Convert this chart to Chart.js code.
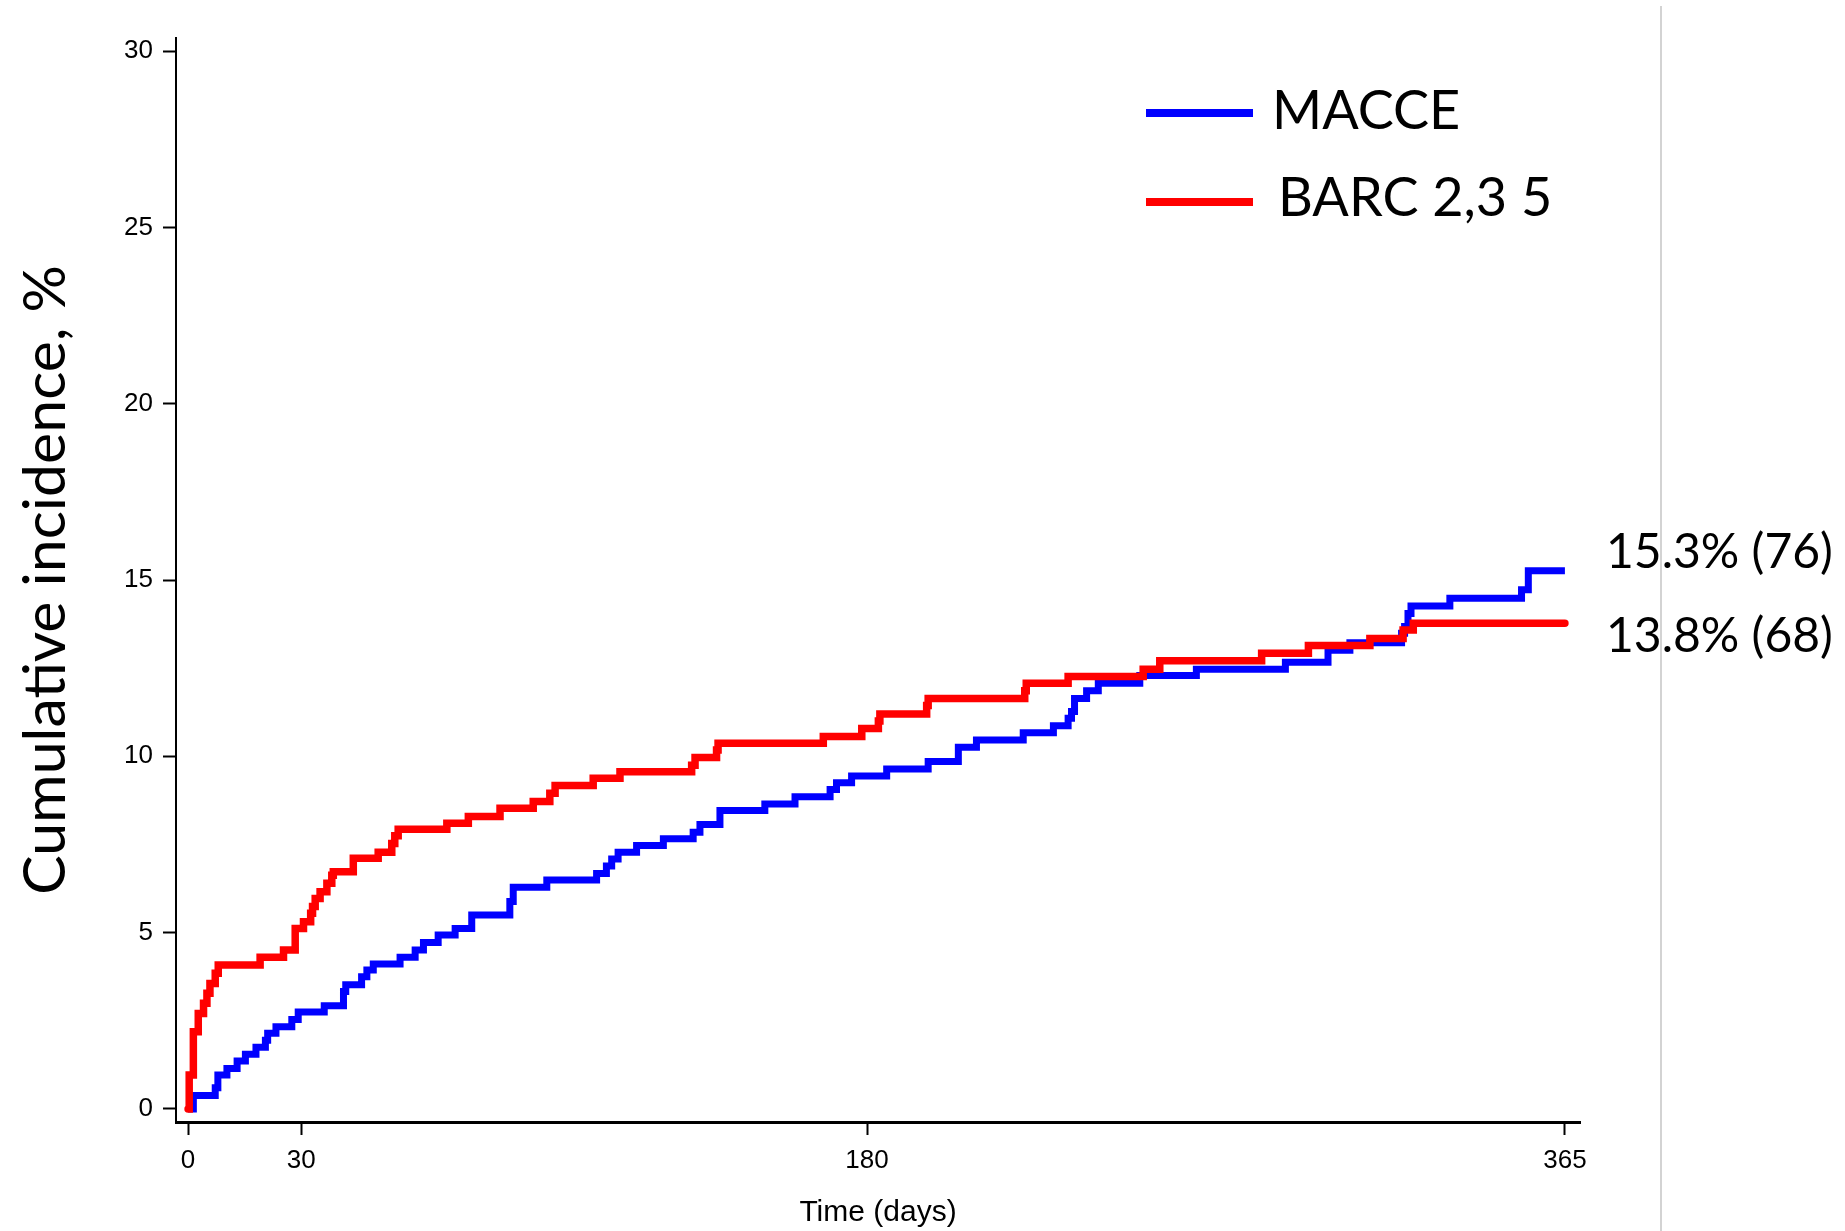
<!DOCTYPE html>
<html>
<head>
<meta charset="utf-8">
<script src="https://cdn.jsdelivr.net/npm/chart.js@4.4.1/dist/chart.umd.min.js"></script>
<style>
html, body { margin: 0; padding: 0; background: #ffffff; }
#wrap { width: 1845px; height: 1231px; position: relative; }
</style>
</head>
<body>
<div id="wrap"><canvas id="c" width="1845" height="1231"></canvas></div>
<script>
// ---- data ----
const seriesLabels = ['MACCE', 'BARC 2,3 5'];
const seriesColors = ['#0000ff', '#ff0000'];

const macceDays = [0, 1.4, 7.2, 7.9, 10.3, 13, 15.2, 18, 20.5, 21.1, 23.3, 27.5, 29.2, 36.1, 41.2, 41.8,
  46, 47.4, 49.1, 56.2, 60.2, 62.4, 66.3, 70.8, 75.2, 85.3, 86.2, 95.1, 108.3, 110.9, 112.3, 114,
  118.9, 126, 133.9, 135.7, 141, 152.9, 160.9, 170.2, 171.9, 175.9, 185.2, 196.2, 204.2, 209,
  221.4, 229.4, 233.3, 234.2, 235, 238.2, 241.3, 252.3, 267.3, 290.9, 302.2, 308, 321.7, 322.5,
  323.4, 324.2, 334.5, 353.5, 355.3, 365];
const macceValues = [0, 0.38, 0.6, 0.96, 1.15, 1.36, 1.55, 1.75, 1.95, 2.15, 2.33, 2.54, 2.75, 2.93, 3.33, 3.52,
  3.75, 3.94, 4.11, 4.30, 4.51, 4.72, 4.93, 5.12, 5.50, 5.88, 6.29, 6.49, 6.68, 6.89, 7.09, 7.28,
  7.47, 7.66, 7.85, 8.07, 8.46, 8.65, 8.85, 9.06, 9.25, 9.44, 9.64, 9.85, 10.26, 10.46,
  10.67, 10.87, 11.08, 11.27, 11.64, 11.86, 12.07, 12.29, 12.47, 12.67, 13.01, 13.22, 13.49, 13.68,
  14.05, 14.26, 14.48, 14.72, 15.26, 15.26];

const barcDays = [0, 0.3, 1.4, 2.7, 4.1, 5.0, 5.8, 7.2, 8.0, 19.1, 25.3, 28.4, 30.6, 32.5, 33, 33.7,
  35, 36.8, 38.1, 38.5, 43.8, 50.4, 54.0, 54.8, 55.7, 68.6, 74.3, 82.7, 91.5, 95.9, 97.3, 107.4,
  114.5, 133.5, 134.4, 140.1, 140.5, 168.4, 178.6, 183.0, 183.4, 195.8, 196.2, 221.8, 222.2, 233.3,
  253.2, 257.6, 284.6, 297, 313.3, 322.1, 324.8, 365];
const barcValues = [0, 0.96, 2.19, 2.71, 3.0, 3.28, 3.56, 3.85, 4.08, 4.30, 4.51, 5.12, 5.31, 5.55, 5.74, 5.97,
  6.16, 6.4, 6.63, 6.73, 7.11, 7.28, 7.53, 7.75, 7.93, 8.1, 8.29, 8.53, 8.72, 8.95, 9.17, 9.38,
  9.56, 9.75, 9.97, 10.18, 10.37, 10.56, 10.79, 11.0, 11.2, 11.44, 11.64, 11.86, 12.07, 12.26,
  12.47, 12.71, 12.92, 13.14, 13.34, 13.58, 13.77, 13.77];

const endLabels = ['15.3% (76)', '13.8% (68)'];
const xTickValues = [0, 30, 180, 365];
const yTickValues = [0, 5, 10, 15, 20, 25, 30];
const xTitle = 'Time (days)';
const yTitle = 'Cumulative incidence, %';

// ---- build datasets ----
function toPoints(days, values) {
  return days.map((d, i) => ({ x: d, y: values[i] }));
}

const overlayPlugin = {
  id: 'overlay',
  afterDraw(chart) {
    const ctx = chart.ctx;
    ctx.save();
    // light vertical separator at the right
    ctx.strokeStyle = '#c4c4c4';
    ctx.lineWidth = 1.5;
    ctx.beginPath();
    ctx.moveTo(1661, 6);
    ctx.lineTo(1661, 1231);
    ctx.stroke();

    // legend
    const legendRows = [
      { y: 113, textX: 1272, base: 129 },
      { y: 202, textX: 1278, base: 216 }
    ];
    ctx.font = '54px Lato, "Open Sans", sans-serif';
    ctx.textAlign = 'left';
    ctx.textBaseline = 'alphabetic';
    legendRows.forEach((r, i) => {
      ctx.strokeStyle = seriesColors[i];
      ctx.lineWidth = 8;
      ctx.lineCap = 'butt';
      ctx.beginPath();
      ctx.moveTo(1146, r.y);
      ctx.lineTo(1253, r.y);
      ctx.stroke();
      ctx.fillStyle = '#000';
      ctx.fillText(seriesLabels[i], r.textX, r.base);
    });

    // end-of-curve labels
    ctx.font = '48px Lato, "Open Sans", sans-serif';
    ctx.fillStyle = '#000';
    ctx.fillText(endLabels[0], 1606, 568);
    ctx.fillText(endLabels[1], 1606, 652);
    ctx.restore();
  }
};

const chart = new Chart(document.getElementById('c'), {
  type: 'line',
  data: {
    datasets: [
      {
        label: seriesLabels[0],
        data: toPoints(macceDays, macceValues),
        borderColor: seriesColors[0],
        backgroundColor: seriesColors[0],
        borderWidth: 7,
        stepped: true,
        pointRadius: 0,
        fill: false,
        borderCapStyle: 'butt',
        borderJoinStyle: 'miter',
        order: 2
      },
      {
        label: seriesLabels[1],
        data: toPoints(barcDays, barcValues),
        borderColor: seriesColors[1],
        backgroundColor: seriesColors[1],
        borderWidth: 7.5,
        stepped: true,
        pointRadius: 0,
        fill: false,
        borderCapStyle: 'round',
        borderJoinStyle: 'miter',
        order: 1
      }
    ]
  },
  options: {
    responsive: false,
    animation: false,
    devicePixelRatio: 1,
    layout: { padding: { left: 0, top: 38, right: 265, bottom: 0 } },
    plugins: {
      legend: { display: false },
      tooltip: { enabled: false }
    },
    scales: {
      x: {
        type: 'linear',
        min: -3.2,
        max: 369,
        afterBuildTicks: (s) => { s.ticks = xTickValues.map(v => ({ value: v })); },
        afterFit: (s) => { s.height = 109; },
        grid: { drawOnChartArea: false, drawTicks: true, tickLength: 13, tickWidth: 2, tickColor: '#000' },
        border: { display: true, color: '#000', width: 3 },
        ticks: {
          color: '#000',
          padding: 10,
          maxRotation: 0,
          autoSkip: false,
          font: { family: '"Liberation Sans", Arial, sans-serif', size: 26 },
          callback: (v) => String(v)
        },
        title: {
          display: true,
          text: xTitle,
          color: '#000',
          font: { family: '"Liberation Sans", Arial, sans-serif', size: 30 },
          padding: { top: 0, bottom: 0 }
        }
      },
      y: {
        type: 'linear',
        min: -0.37,
        max: 30.37,
        afterBuildTicks: (s) => { s.ticks = yTickValues.map(v => ({ value: v })); },
        afterFit: (s) => { s.width = 176; },
        grid: { drawOnChartArea: false, drawTicks: true, tickLength: 13, tickWidth: 2, tickColor: '#000' },
        border: { display: true, color: '#000', width: 2 },
        ticks: {
          color: '#000',
          padding: 10,
          autoSkip: false,
          font: { family: '"Liberation Sans", Arial, sans-serif', size: 26 },
          callback: (v) => String(v)
        },
        title: {
          display: true,
          text: yTitle,
          color: '#000',
          font: { family: 'Lato, "Open Sans", sans-serif', size: 59 },
          padding: { top: 11, bottom: 0 }
        }
      }
    }
  },
  plugins: [overlayPlugin]
});
</script>
</body>
</html>
